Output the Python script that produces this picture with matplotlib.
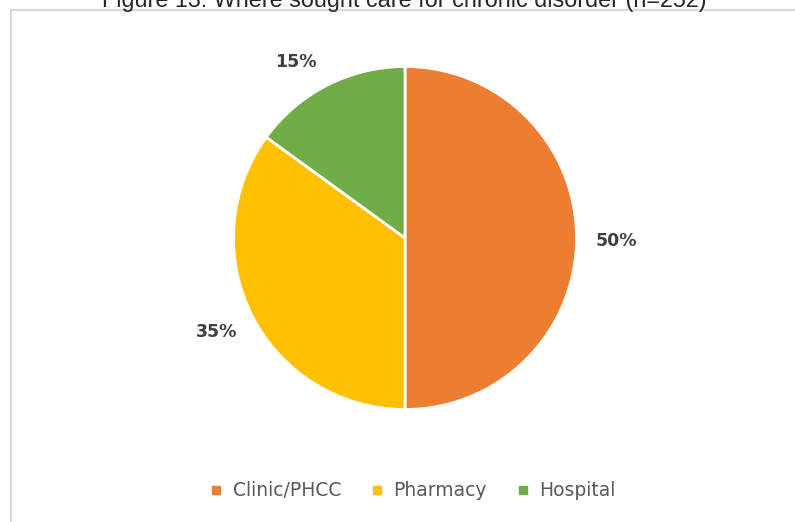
import matplotlib
matplotlib.use("Agg")
from matplotlib import pyplot as plt
from matplotlib.lines import Line2D

# data
categories = ["Clinic/PHCC", "Pharmacy", "Hospital"]
shares = [50, 35, 15]
colors = ["#ED7D31", "#FFC000", "#70AD47"]
title = "Figure 13: Where sought care for chronic disorder (n=252)"

W, H = 795, 522
fig = plt.figure(figsize=(W / 100, H / 100), dpi=100)
fig.set_facecolor("white")
ax = fig.add_axes([0, 0, 1, 1])

wedges, texts, autotexts = ax.pie(
    shares, colors=colors, startangle=90, counterclock=False,
    center=(405, H - 238), radius=171.5,
    autopct=lambda p: f"{p:.0f}%", pctdistance=1.23,
    wedgeprops=dict(edgecolor="white", linewidth=2),
)
# small nudges so labels sit where Excel put them
nudges = [(0, -3), (0, 2), (-13, -12)]
for t, (dx, dy) in zip(autotexts, nudges):
    x, y = t.get_position()
    t.set_position((x + dx, y + dy))
    t.set_fontsize(12.5)
    t.set_fontweight("bold")
    t.set_color("#404040")
    t.set_family("DejaVu Sans")

# pixel coordinates (pie resets the limits)
ax.set_xlim(0, W)
ax.set_ylim(0, H)
ax.set_aspect("equal")
ax.axis("off")

# chart area border (runs off right/bottom)
ax.plot([11, 11], [-5, H - 10], color="#D9D9D9", lw=1.5, clip_on=False)
ax.plot([11, W + 5], [H - 10, H - 10], color="#D9D9D9", lw=1.5, clip_on=False)

# title, clipped at the top like the reference
fig.text(404 / W, 1 - 7 / H, title, ha="center", va="baseline",
         fontsize=16.8, color="#262626", family="Liberation Sans")

handles = [Line2D([], [], marker="s", ls="", markersize=6,
                  markerfacecolor=c, markeredgecolor=c) for c in colors]
fig.legend(handles, categories, loc="center", bbox_to_anchor=(412 / W, 31 / H),
           ncol=3, frameon=False, handlelength=0.8, handletextpad=0.5,
           columnspacing=1.5, prop={"family": "DejaVu Sans", "size": 13.5},
           labelcolor="#595959")

fig.savefig("out.png", dpi=100)
